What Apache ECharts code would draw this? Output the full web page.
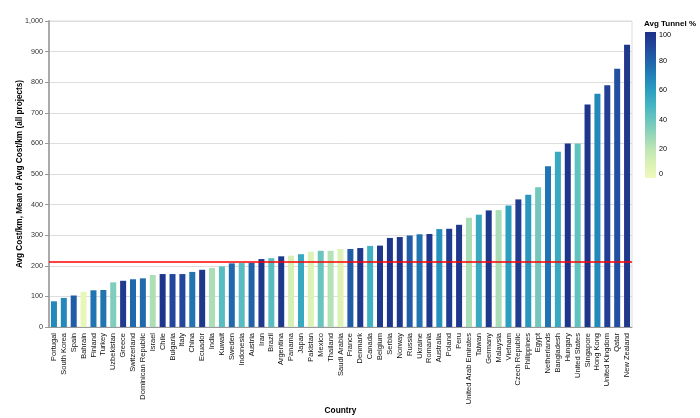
<!DOCTYPE html>
<html><head><meta charset="utf-8">
<script src="https://cdn.jsdelivr.net/npm/echarts@6/dist/echarts.min.js"></script>
<style>html,body{margin:0;padding:0;background:#fff}#c{width:700px;height:418px}</style>
</head><body><div id="c"></div>
<script>
const countries = ["Portugal","South Korea","Spain","Bahrain","Finland","Turkey","Uzbekistan","Greece","Switzerland","Dominican Republic","Israel","Chile","Bulgaria","Italy","China","Ecuador","India","Kuwait","Sweden","Indonesia","Austria","Iran","Brazil","Argentina","Panama","Japan","Pakistan","Mexico","Thailand","Saudi Arabia","France","Denmark","Canada","Belgium","Serbia","Norway","Russia","Ukraine","Romania","Australia","Poland","Peru","United Arab Emirates","Taiwan","Germany","Malaysia","Vietnam","Czech Republic","Philippines","Egypt","Netherlands","Bangladesh","Hungary","United States","Singapore","Hong Kong","United Kingdom","Qatar","New Zealand"];
const avgCost = [84,95,103,115,120,121,146,151,156,159,170,173,173,173,180,187,193,198,208,209,210,222,225,231,233,238,246,249,249,255,255,258,265,266,291,294,299,303,304,320,321,334,357,367,381,382,397,417,432,457,525,573,600,600,727,762,790,844,922];
const tunnelPct = [68,68,82,4,75,75,35,96,78,78,24,98,90,90,75,97,24,45,78,45,80,97,45,97,12,55,9,40,22,9,82,97,52,97,98,97,83,75,97,65,95,97,25,55,97,25,60,95,62,38,75,55,98,42,98,68,93,87,97];
const meanCost = 212;
const legendTicks = [0,20,40,60,80,100];
const scheme = ["#eff9bd","#dbf1b4","#bde5b5","#94d5b9","#69c5be","#45b4c2","#2c9ec0","#2182b8","#2163aa","#23479c","#1c3185"];

const font = "Liberation Sans, Arial, sans-serif";
const chart = echarts.init(document.getElementById('c'));
chart.setOption({
  animation:false,
  textStyle:{fontFamily:font},
  title:{text:'Avg Tunnel %',left:644,top:20,padding:0,textStyle:{fontSize:8,fontWeight:'bold',color:'#000',fontFamily:font}},
  grid:[
    {left:49,right:68,top:21,bottom:91,show:true,borderColor:'#ddd',borderWidth:1,containLabel:false,outerBoundsMode:'none'},
    {left:645,width:11,top:32,height:146,containLabel:false,outerBoundsMode:'none'}
  ],
  visualMap:{type:'continuous',show:false,min:0,max:100,dimension:2,seriesIndex:0,inRange:{color:scheme}},
  xAxis:[
    {type:'category',gridIndex:0,data:countries,name:'Country',nameLocation:'middle',nameGap:80,nameMoveOverlap:false,
     nameTextStyle:{fontWeight:'bold',fontSize:8.3,color:'#000'},
     axisLine:{lineStyle:{color:'#999',width:1}},
     axisTick:{alignWithLabel:true,length:4,lineStyle:{color:'#999'}},
     axisLabel:{interval:0,rotate:90,fontSize:7.5,color:'#111',margin:6}},
    {type:'category',gridIndex:1,data:['t'],show:false}
  ],
  yAxis:[
    {type:'value',gridIndex:0,min:0,max:1000,interval:100,
     name:'Avg Cost/km, Mean of Avg Cost/km (all projects)',nameLocation:'middle',nameGap:25,nameMoveOverlap:false,
     nameTextStyle:{fontWeight:'bold',fontSize:8.2,color:'#000'},
     axisLine:{show:true,lineStyle:{color:'#aaa',width:2}},
     axisTick:{show:true,length:4,lineStyle:{color:'#999'}},
     axisLabel:{fontSize:7.2,color:'#333',margin:6,formatter:v=>v.toLocaleString('en-US')},
     splitLine:{lineStyle:{color:'#ddd'}}},
    {type:'value',gridIndex:1,min:0,max:100,interval:20,position:'right',
     axisLine:{show:false},axisTick:{show:false},splitLine:{show:false},
     axisLabel:{fontSize:7.2,color:'#000',margin:3,verticalAlignMaxLabel:'top',verticalAlignMinLabel:'bottom',
       formatter:v=>legendTicks.includes(v)?String(v):''}}
  ],
  series:[
    {type:'bar',xAxisIndex:0,yAxisIndex:0,barWidth:6,
     data:countries.map((c,i)=>[c,avgCost[i],tunnelPct[i]]),
     encode:{x:0,y:1},
     markLine:{silent:true,symbol:'none',label:{show:false},lineStyle:{color:'#ff0000',width:1.5,type:'solid'},data:[{yAxis:meanCost}]}},
    {type:'bar',xAxisIndex:1,yAxisIndex:1,barWidth:'100%',data:[100],
     itemStyle:{color:{type:'linear',x:0,y:0,x2:0,y2:1,colorStops:scheme.slice().reverse().map((c,i,a)=>({offset:i/(a.length-1),color:c}))}}}
  ]
});
</script></body></html>
